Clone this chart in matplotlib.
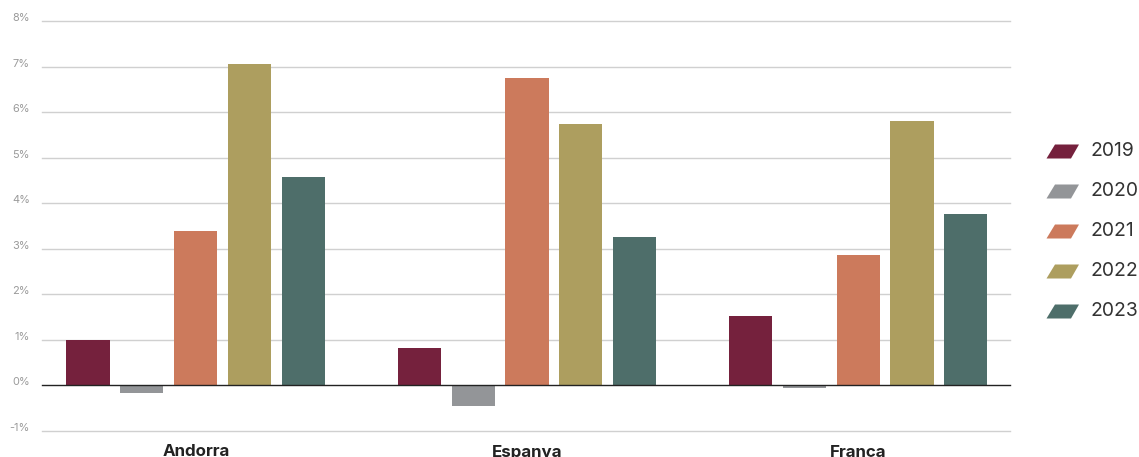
import matplotlib.pyplot as plt
import matplotlib.transforms as mtransforms
from matplotlib.patches import Polygon
import numpy as np

plt.rcParams['font.family'] = ['Inter', 'DejaVu Sans']

# growth rates per country, in %
countries = ['Andorra', 'Espanya', 'França']
years = ['2019', '2020', '2021', '2022', '2023']
v2019 = [1.00, 0.82, 1.52]
v2020 = [-0.17, -0.45, -0.05]
v2021 = [3.38, 6.75, 2.87]
v2022 = [7.05, 5.75, 5.81]
v2023 = [4.57, 3.25, 3.76]
series = [v2019, v2020, v2021, v2022, v2023]
colors = ['#75213d', '#939598', '#cc7a5c', '#ad9e5f', '#4e6e6a']
yticks = [-1, 0, 1, 2, 3, 4, 5, 6, 7, 8]

W, H = 1139, 457
fig = plt.figure(figsize=(W / 100, H / 100), dpi=100)
ax = fig.add_axes([42 / W, 1 - 431 / H, (1010 - 42) / W, (431 - 21) / H])

x = np.arange(len(countries))
pitch = 0.163
width = 0.13
for i, (vals, c) in enumerate(zip(series, colors)):
    ax.bar(x + (i - 2) * pitch, vals, width, color=c, zorder=3, linewidth=0)

ax.set_xlim(-0.465, 2.459)
ax.set_ylim(-1, 8)

for v in yticks:
    if v == 0:
        ax.axhline(v, color='#222222', linewidth=1.0, zorder=4, clip_on=False)
    else:
        ax.axhline(v, color='#d0d0d0', linewidth=1.0, zorder=1, clip_on=False)

# y labels, slightly above their gridline
off = mtransforms.ScaledTranslation(0, 3 / 100, fig.dpi_scale_trans)
ytr = mtransforms.blended_transform_factory(ax.transAxes, ax.transData) + off
for v in yticks:
    ax.text(-12 / 968, v, f'{v}%', transform=ytr, ha='right', va='center',
            fontsize=7.9, color='#9a9a9a')

# category labels
for xi, name in zip(x, countries):
    fig.text((42 + (xi + 0.465) * 331) / W, 1 - 456.5 / H, name, ha='center',
             va='baseline', fontsize=12.2, fontweight='bold', color='#222222')

ax.set_xticks([])
ax.set_yticks([])
for s in ax.spines.values():
    s.set_visible(False)

# legend with slanted swatches
for i, (yr, c) in enumerate(zip(years, colors)):
    yc = 151.5 + i * 40
    pts = [(1046.5, yc + 7), (1071, yc + 7), (1079, yc - 7), (1055, yc - 7)]
    pts = [(px / W, 1 - py / H) for px, py in pts]
    fig.add_artist(Polygon(pts, closed=True, transform=fig.transFigure,
                           facecolor=c, edgecolor='none'))
    fig.text(1090 / W, 1 - yc / H, yr, ha='left', va='center',
             fontsize=13.9, color='#333333')

fig.savefig('out.png', dpi=100)
